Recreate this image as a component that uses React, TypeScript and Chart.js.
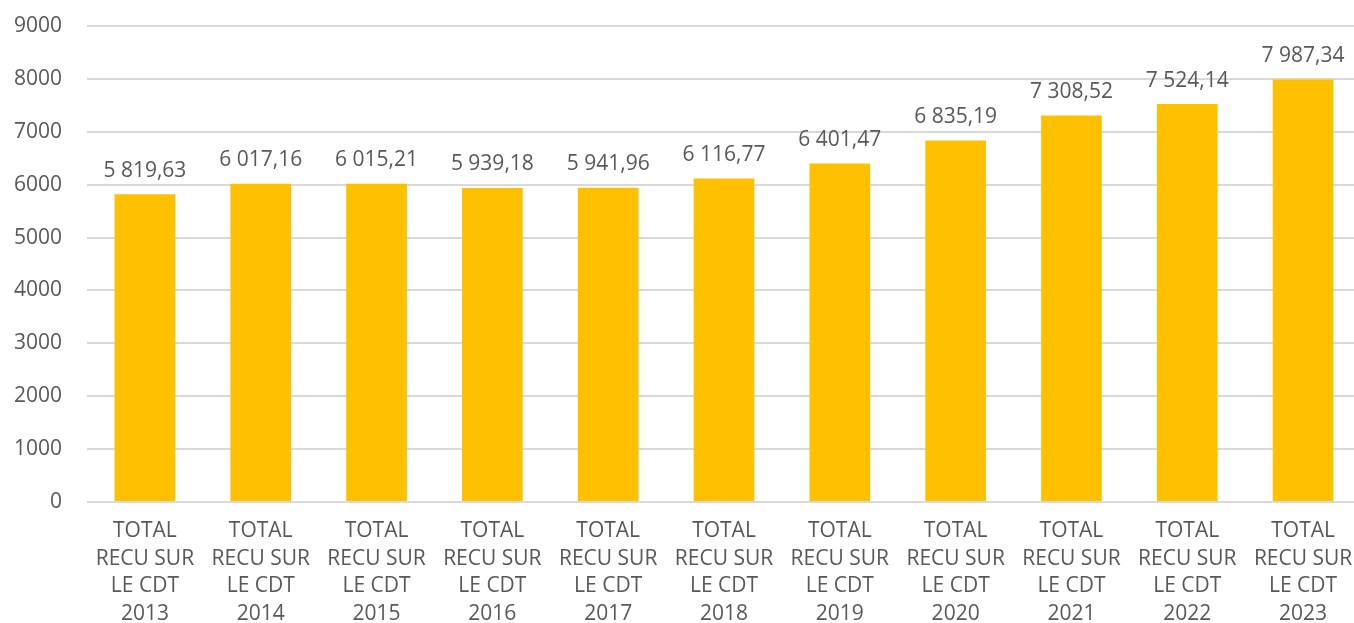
import React, { useEffect, useRef } from "react";
import { Chart, registerables } from "chart.js";

Chart.register(...registerables);

const years = ["2013", "2014", "2015", "2016", "2017", "2018", "2019", "2020", "2021", "2022", "2023"];
const labelPrefix = ["TOTAL", "RECU SUR", "LE CDT"];
const values = [5819.63, 6017.16, 6015.21, 5939.18, 5941.96, 6116.77, 6401.47, 6835.19, 7308.52, 7524.14, 7987.34];
const yMin = 0;
const yMax = 9000;
const yStep = 1000;

const FONT = "'Open Sans', 'DejaVu Sans', sans-serif";
const TEXT = "#595959";

function formatFr(v: number): string {
  const [intPart, dec] = v.toFixed(2).split(".");
  const withSpaces = intPart.replace(/\B(?=(\d{3})+(?!\d))/g, " ");
  return withSpaces + "," + dec;
}

const valueLabels = {
  id: "valueLabels",
  afterDatasetsDraw(chart: any) {
    const ctx = chart.ctx;
    const meta = chart.getDatasetMeta(0);
    ctx.save();
    ctx.font = `21px ${FONT}`;
    ctx.fillStyle = TEXT;
    ctx.textAlign = "center";
    ctx.textBaseline = "alphabetic";
    meta.data.forEach((bar: any, i: number) => {
      ctx.fillText(formatFr(values[i]), bar.x, bar.y - 17.5);
    });
    ctx.restore();
  },
};

export default function App() {
  const ref = useRef<HTMLCanvasElement | null>(null);
  useEffect(() => {
    if (!ref.current) return;
    const chart = new Chart(ref.current, {
      type: "bar",
      data: {
        labels: years.map((y) => [...labelPrefix, y]),
        datasets: [
          {
            data: values,
            backgroundColor: "#FFC000",
            borderWidth: 0,
            categoryPercentage: 1,
            barPercentage: 0.524,
          },
        ],
      },
      options: {
        animation: false,
        responsive: true,
        maintainAspectRatio: false,
        layout: { padding: { top: 26, right: 1, left: 0, bottom: 0 } },
        plugins: { legend: { display: false }, tooltip: { enabled: false } },
        scales: {
          x: {
            grid: { display: false, drawTicks: false },
            border: { display: false },
            ticks: {
              color: TEXT,
              font: { family: FONT, size: 21, lineHeight: 1.32 },
              padding: 15,
              maxRotation: 0,
              autoSkip: false,
            },
            afterFit(scale: any) {
              scale.height = 121;
              scale.paddingLeft = 0;
              scale.paddingRight = 0;
            },
          },
          y: {
            min: yMin,
            max: yMax,
            grid: { color: "#d9d9d9", lineWidth: 2, drawTicks: false },
            border: { display: false },
            ticks: {
              stepSize: yStep,
              color: TEXT,
              font: { family: FONT, size: 21 },
              padding: 25,
              callback: (v: any) => String(v),
            },
            afterFit(scale: any) {
              scale.width = 87;
              scale.paddingTop = 0;
              scale.paddingBottom = 0;
            },
          },
        },
      },
      plugins: [valueLabels],
    });
    return () => chart.destroy();
  }, []);

  return (
    <div style={{ position: "fixed", left: 0, top: 0, width: 1354, height: 623, overflow: "hidden", background: "#fff" }}>
      <div style={{ position: "relative", width: 1362, height: 623 }}>
        <canvas ref={ref} />
      </div>
    </div>
  );
}
